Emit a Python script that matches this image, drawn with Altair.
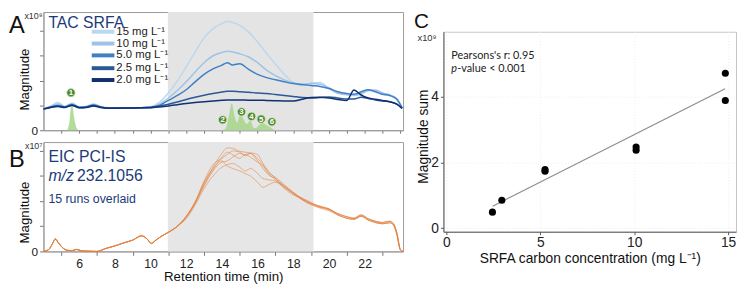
import altair as alt
import pandas as pd

FONT = "Liberation Sans"
NAVY = "#1b3a7a"

# ---------------- Panel A: TAC SRFA ----------------
conc_labels = ["15 mg L⁻¹", "10 mg L⁻¹", "5.0 mg L⁻¹", "2.5 mg L⁻¹", "2.0 mg L⁻¹"]
conc_colors = ["#bcd7f1", "#9dc3e8", "#3f7fc6", "#2b5899", "#11306f"]

tA = [4.0, 4.4, 4.8, 5.2, 5.6, 6.0, 6.4, 6.8, 7.2, 7.6, 8.0, 9.0, 10.0,
      10.5, 11.0, 11.5, 12.0, 12.5, 13.0, 13.5, 14.0, 14.3, 14.6, 15.0, 15.5,
      16.0, 16.5, 17.0, 17.5, 18.0, 18.5, 19.0, 19.5, 20.0, 20.5, 21.0, 21.4,
      21.8, 22.2, 22.6, 23.0, 23.4, 23.8, 24.1]
a15 = [0.87, 0.97, 1.12, 0.96, 1.1, 0.94, 0.96, 1.06, 0.96, 0.91, 0.9, 0.9, 0.95,
       1.12, 1.5, 1.98, 2.55, 3.15, 3.72, 4.08, 4.3, 4.39, 4.34, 4.22, 3.95,
       3.55, 3.1, 2.66, 2.25, 1.92, 1.8, 1.9, 1.92, 1.68, 1.48, 1.42, 1.4,
       1.45, 1.6, 1.58, 1.45, 1.42, 1.28, 0.9]
a10 = [0.87, 0.95, 1.06, 0.95, 1.07, 0.93, 0.95, 1.04, 0.95, 0.9, 0.9, 0.9, 0.94,
       1.05, 1.3, 1.6, 1.95, 2.35, 2.72, 3.0, 3.13, 3.18, 3.15, 3.08, 2.95,
       2.72, 2.42, 2.2, 2.03, 1.9, 1.85, 1.88, 1.85, 1.7, 1.5, 1.45, 1.42,
       1.48, 1.6, 1.62, 1.5, 1.42, 1.26, 0.9]
a5 = [0.86, 0.94, 1.0, 0.94, 1.04, 0.92, 0.94, 1.02, 0.94, 0.9, 0.9, 0.9, 0.93,
      1.0, 1.2, 1.4, 1.63, 1.95, 2.25, 2.47, 2.62, 2.72, 2.63, 2.68, 2.45,
      2.25, 2.12, 2.03, 1.95, 1.88, 1.84, 1.8, 1.76, 1.68, 1.55, 1.48, 1.45,
      1.55, 1.63, 1.55, 1.45, 1.4, 1.25, 0.9]
a25 = [0.86, 0.93, 0.98, 0.93, 1.02, 0.92, 0.93, 1.0, 0.93, 0.9, 0.9, 0.9, 0.92,
       0.98, 1.05, 1.14, 1.24, 1.33, 1.41, 1.48, 1.54, 1.57, 1.57, 1.55, 1.53,
       1.5, 1.48, 1.44, 1.4, 1.36, 1.32, 1.3, 1.32, 1.34, 1.3, 1.26, 1.26,
       1.33, 1.28, 1.22, 1.18, 1.15, 1.05, 0.88]
a20 = [0.85, 0.92, 0.96, 0.92, 1.0, 0.91, 0.92, 0.98, 0.92, 0.89, 0.89, 0.9, 0.91,
       0.94, 0.98, 1.03, 1.08, 1.12, 1.15, 1.18, 1.21, 1.22, 1.22, 1.22, 1.21,
       1.21, 1.2, 1.19, 1.18, 1.18, 1.25, 1.32, 1.33, 1.3, 1.24, 1.2, 1.62,
       1.42, 1.3, 1.25, 1.2, 1.15, 1.05, 0.88]
a_series = [a15, a10, a5, a25, a20]

# green reference peaks
gT = [4.0, 5.3, 5.45, 5.55, 5.62, 5.72, 5.85, 6.0, 13.9, 14.2, 14.4, 14.55, 14.7,
      14.85, 15.05, 15.2, 15.4, 15.6, 15.75, 15.9, 16.1, 16.3, 16.5, 16.7, 16.9,
      17.1, 24.1]
gV = [0, 0, 0.3, 0.95, 0.98, 0.5, 0.1, 0, 0, 0.05, 0.6, 1.1, 0.6,
      0.3, 0.72, 0.45, 0.25, 0.4, 0.12, 0.08, 0.22, 0.28, 0.2, 0.12, 0.03,
      0, 0]
peak_ids = ["1", "2", "3", "4", "5", "6"]
peak_t = [5.54, 14.04, 15.1, 15.66, 16.2, 16.8]
peak_y = [1.51, 0.42, 0.74, 0.56, 0.45, 0.34]

shade_start = [10.97]
shade_end = [19.13]

# ---------------- Panel B: EIC PCI-IS ----------------
tB_left = [4.0, 4.3, 4.5, 4.66, 4.8, 5.0, 5.3, 5.6, 5.85, 6.1, 6.5, 7.0, 7.5, 8.0,
           8.5, 9.0, 9.5, 9.8, 10.05, 10.3, 10.6, 11.0, 11.5]
vB_left = [0, 0.08, 0.3, 0.5, 0.38, 0.2, 0.05, 0.03, 0.08, 0.03, 0.01, 0.0, 0.12,
           0.22, 0.34, 0.45, 0.62, 0.5, 0.32, 0.45, 0.6, 0.76, 1.0]
tB_peak = [12.0, 12.5, 13.0, 13.5, 14.0, 14.3, 14.6, 15.0, 15.3, 15.6, 16.0, 16.3,
           16.6, 17.0, 17.5, 18.0, 18.5, 19.0, 19.5, 20.0]
runs_peak = [
    [1.38, 1.95, 2.7, 3.35, 3.9, 4.12, 4.1, 3.98, 3.95, 3.9, 3.7, 3.45, 3.15, 2.95, 2.65, 2.35, 2.1, 1.9, 1.78, 1.68],
    [1.4, 1.98, 2.8, 3.45, 3.7, 3.85, 4.0, 3.95, 3.8, 3.9, 3.6, 3.3, 3.05, 2.9, 2.6, 2.3, 2.05, 1.85, 1.75, 1.65],
    [1.35, 1.9, 2.6, 3.2, 3.55, 3.6, 3.75, 3.9, 3.85, 3.92, 3.85, 3.5, 3.2, 2.9, 2.55, 2.3, 2.1, 1.92, 1.8, 1.7],
    [1.3, 1.85, 2.5, 3.0, 3.35, 3.45, 3.5, 3.35, 3.2, 3.3, 3.1, 2.9, 2.85, 2.8, 2.6, 2.35, 2.08, 1.88, 1.72, 1.62],
    [1.4, 1.95, 2.75, 3.3, 3.6, 3.4, 3.3, 3.2, 3.1, 3.0, 2.75, 2.55, 2.65, 2.75, 2.55, 2.3, 2.05, 1.9, 1.8, 1.66],
    [1.37, 1.92, 2.65, 3.25, 3.75, 3.95, 3.85, 3.7, 3.85, 3.75, 3.55, 3.4, 3.1, 2.85, 2.5, 2.25, 2.12, 1.95, 1.76, 1.7],
]
tB_right = [20.5, 21.0, 21.4, 21.8, 22.2, 22.6, 23.0, 23.4, 23.6, 23.8, 24.0, 24.15]
runs_right = [
    [1.5, 1.38, 1.32, 1.45, 1.3, 1.2, 1.15, 1.2, 1.12, 0.75, 0.08, 0.0],
    [1.45, 1.32, 1.28, 1.4, 1.25, 1.15, 1.1, 1.14, 1.06, 0.68, 0.06, 0.0],
]

# ---------------- Panel C: magnitude sum vs concentration ----------------
c_x = [2.45, 2.95, 5.25, 5.25, 10.1, 10.1, 14.85, 14.85]
c_y = [0.49, 0.85, 1.73, 1.78, 2.37, 2.47, 3.88, 4.71]
fit_x = [2.46, 14.84]
fit_y = [0.67, 4.24]

# ---------------- build tables ----------------
rowsA = []
for lab, vals in zip(conc_labels, a_series):
    for t, v in zip(tA, vals):
        rowsA.append({"t": t, "v": v, "series": lab})
dfA = pd.DataFrame(rowsA)
dfG = pd.DataFrame({"t": gT, "v": gV})
dfP = pd.DataFrame({"t": peak_t, "v": peak_y, "n": peak_ids})
dfS = pd.DataFrame({"t": shade_start, "t2": shade_end})

rowsB = []
for i, rp in enumerate(runs_peak):
    rr = runs_right[i % 2]
    for t, v in zip(tB_left + tB_peak + tB_right, vB_left + rp + rr):
        rowsB.append({"t": t, "v": v, "run": i})
dfB = pd.DataFrame(rowsB)
dfC = pd.DataFrame({"x": c_x, "y": c_y})
dfF = pd.DataFrame({"x": fit_x, "y": fit_y})
one = pd.DataFrame({"a": [0]})

W_AB, H_A, H_B = 365, 120, 111
W_C, H_C = 297, 203
FRAME = "#9a9a9a"

def label(txt, x, y, size, color=NAVY, style="normal", align="left", baseline="middle", font=FONT, weight="normal"):
    return alt.Chart(one).mark_text(
        text=txt, fontSize=size, color=color, fontStyle=style, align=align,
        baseline=baseline, font=font, fontWeight=weight
    ).encode(x=alt.value(x), y=alt.value(y))

# ---- A ----
xA = alt.X("t:Q", scale=alt.Scale(domain=[4, 24.15], nice=False, zero=False),
           axis=alt.Axis(values=list(range(5, 25)), labels=False, tickSize=3, title=None,
                         grid=False, domainColor=FRAME, tickColor="#777"))
yA = alt.Y("v:Q", scale=alt.Scale(domain=[0, 4.76], nice=False),
           axis=alt.Axis(values=[0, 1, 2, 3, 4], labelExpr="datum.value == 0 ? '0' : ''",
                         tickSize=4, labelPadding=2, grid=False, title="Magnitude",
                         titleX=-19, titleY=68, titleAngle=270, titleBaseline="middle",
                         titleAlign="center", titleFontSize=13.5, titleFontWeight="normal",
                         labelFontSize=12, domainColor=FRAME, tickColor="#777"))

shadeA = alt.Chart(dfS).mark_rect(color="#e4e4e4").encode(x=xA, x2="t2:Q")
greenA = alt.Chart(dfG).mark_area(color="#a6d68a", opacity=0.85, interpolate="monotone").encode(x=xA, y=yA)
linesA = alt.Chart(dfA).mark_line(strokeWidth=1.5, interpolate="monotone").encode(
    x=xA, y=yA,
    color=alt.Color("series:N", scale=alt.Scale(domain=conc_labels, range=conc_colors), legend=None),
)
dotsA = alt.Chart(dfP).mark_point(filled=True, size=72, color="#4e8a2e", opacity=1,
                                  stroke="#cfe6c2", strokeWidth=0.8).encode(x=xA, y=yA)
numsA = alt.Chart(dfP).mark_text(color="white", fontSize=8, fontWeight="bold", baseline="middle",
                                 dy=0.5).encode(x=xA, y=yA, text="n:N")

legend_layers = []
leg_y = [20, 32, 44, 57, 69]
for lab, col, yy in zip(conc_labels, conc_colors, leg_y):
    legend_layers.append(alt.Chart(one).mark_rule(color=col, strokeWidth=4).encode(
        x=alt.value(49), x2=alt.value(72), y=alt.value(yy)))
    legend_layers.append(label(lab, 74, yy, 11.5, color="#222"))

chartA = alt.layer(
    shadeA, greenA, linesA, dotsA, numsA, *legend_layers,
    label("TAC SRFA", 5, 11, 16),
    label("x10⁹", -1, 0, 9, color="#333", align="right", baseline="top"),
    label("A", -35, 21, 24, color="#111", baseline="alphabetic"),
).properties(width=W_AB, height=H_A, view=alt.ViewBackground(stroke=FRAME))

# ---- B ----
xB = alt.X("t:Q", scale=alt.Scale(domain=[4, 24.15], nice=False, zero=False),
           axis=alt.Axis(values=list(range(5, 24)),
                         labelExpr="(datum.value % 2 === 0) ? datum.label : ''",
                         tickOpacity={"condition": {"test": "datum.value % 2 === 0", "value": 0}, "value": 1},
                         tickSize=4, labelPadding=2, labelFontSize=12.5, labelOverlap=False,
                         labelFlush=False, grid=False, title="Retention time (min)",
                         titleFontSize=13.5, titleFontWeight="normal", titleX=W_AB / 2, titleY=26,
                         titleBaseline="middle", domainColor=FRAME, tickColor="#777"))
yB = alt.Y("v:Q", scale=alt.Scale(domain=[0, 4.35], nice=False),
           axis=alt.Axis(values=[0, 1, 2, 3, 4], labelExpr="datum.value == 0 ? '0' : ''",
                         tickSize=4, labelPadding=2, grid=False, title="Magnitude",
                         titleX=-19, titleY=71, titleAngle=270, titleBaseline="middle",
                         titleAlign="center", titleFontSize=13.5, titleFontWeight="normal",
                         labelFontSize=12, domainColor=FRAME, tickColor="#777"))
shadeB = alt.Chart(dfS).mark_rect(color="#e6e6e6").encode(x=xB, x2="t2:Q")
linesB = alt.Chart(dfB).mark_line(strokeWidth=0.9, color="#e2803e", opacity=0.62,
                                  interpolate="monotone").encode(x=xB, y=yB, detail="run:N")
chartB = alt.layer(
    shadeB, linesB,
    label("EIC PCI-IS", 5, 15, 16),
    label("m/z", 5, 35, 16, style="italic"),
    label("232.1056", 34, 35, 16),
    label("15 runs overlaid", 5, 58, 12.5),
    label("x10⁷", -1, 0, 9, color="#333", align="right", baseline="top"),
    label("B", -35, 25, 24, color="#111", baseline="alphabetic"),
).properties(width=W_AB, height=H_B, view=alt.ViewBackground(stroke=FRAME))

# ---- C ----
xC = alt.X("x:Q", scale=alt.Scale(domain=[-0.16, 15.42], nice=False, zero=False),
           axis=alt.Axis(values=[0, 5, 10, 15], tickSize=3, labelPadding=1, labelFontSize=14,
                         labelFlush=False, grid=True, gridColor="#eeeeee", gridDash=[1, 2],
                         title="SRFA carbon concentration (mg L⁻¹)", titleFontSize=14,
                         titleFontWeight="normal", titleX=W_C / 2, titleY=27,
                         titleBaseline="middle", domainColor="#555", tickColor="#555"))
yC = alt.Y("y:Q", scale=alt.Scale(domain=[-0.105, 5.97], nice=False, zero=False),
           axis=alt.Axis(values=[0, 2, 4], tickSize=3, labelPadding=2, labelFontSize=14,
                         grid=True, gridColor="#eeeeee", gridDash=[1, 2],
                         title="Magnitude sum", titleFontSize=14, titleFontWeight="normal",
                         titleX=-20, titleY=106, titleAngle=270, titleBaseline="middle",
                         titleAlign="center", domainColor="#555", tickColor="#555"))
fitC = alt.Chart(dfF).mark_line(color="#8c8c8c", strokeWidth=1.2).encode(x=xC, y=yC)
ptsC = alt.Chart(dfC).mark_point(filled=True, color="black", size=52, opacity=1).encode(x=xC, y=yC)
chartC = alt.layer(
    fitC, ptsC,
    label("Pearsons's  r: 0.95", 8, 25, 11, color="#222", font="Lato"),
    label("p", 8, 38, 11, color="#222", font="Lato", style="italic"),
    label("-value < 0.001", 14, 38, 11, color="#222", font="Lato"),
    label("x10⁹", -7, 6, 9.5, color="#333", align="right"),
    label("C", -30, -4, 21, color="#111", baseline="alphabetic"),
).properties(width=W_C, height=H_C, view=alt.ViewBackground(stroke="#c4c4c4"))

spacer = alt.Chart(one).mark_point(opacity=0).properties(
    width=W_C, height=20, view=alt.ViewBackground(stroke=None))

left = alt.vconcat(chartA, chartB, spacing=12, bounds="flush")
right = alt.vconcat(spacer, chartC, spacing=0, bounds="flush")
chart = alt.hconcat(left, right, spacing=7).properties(
    padding=0, background="white"
).configure(font=FONT).configure_axis(labelColor="#222", titleColor="#111", labelFont=FONT, titleFont=FONT)

chart.save("out.html", embed_options={"renderer": "svg", "actions": False})
